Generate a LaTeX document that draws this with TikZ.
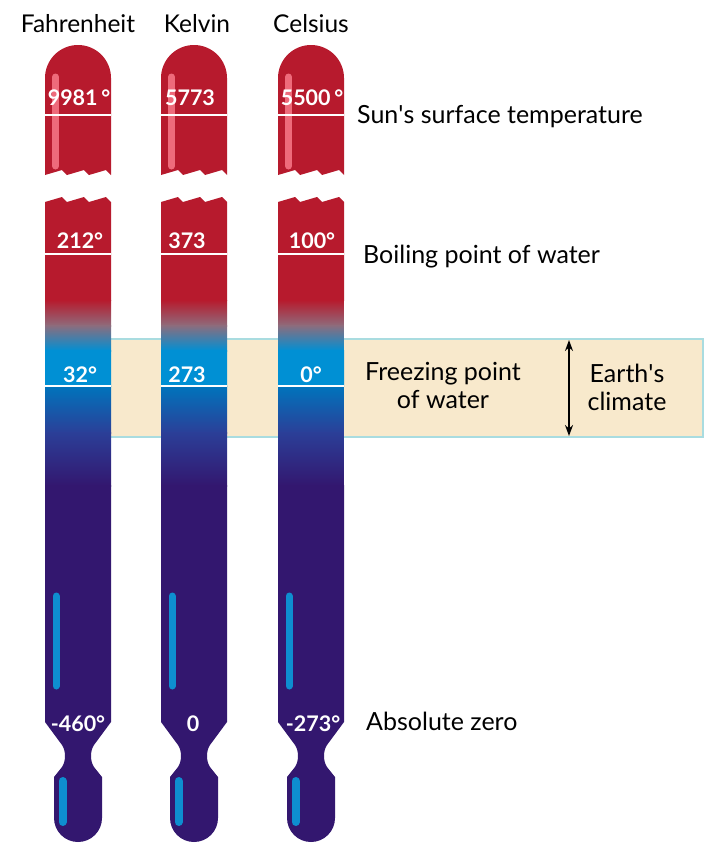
\documentclass[tikz,border=0pt]{standalone}
\usepackage{fontspec}
\setmainfont{Lato}
\usetikzlibrary{arrows.meta}
\usetikzlibrary{positioning}

\definecolor{sunred}{HTML}{B71A2D}
\definecolor{mauve}{HTML}{8E6C7C}
\definecolor{icecyan}{HTML}{0090D4}
\definecolor{deepblue}{HTML}{0074BC}
\definecolor{navy}{HTML}{2B3F98}
\definecolor{cold}{HTML}{33176F}
\definecolor{pinkline}{HTML}{EE6B7B}
\definecolor{blueline}{HTML}{0E8ED0}
\definecolor{bandfill}{HTML}{F8E9CC}
\definecolor{bandedge}{HTML}{A9DCE0}

\tikzset{
  scalename/.style={font=\fontsize{24.5}{28}\selectfont, anchor=base, inner sep=0pt},
  reading/.style={text=white, font=\bfseries\fontsize{21.5}{24}\selectfont, anchor=base, inner sep=0pt},
  note/.style={font=\fontsize{25}{27.5}\selectfont, inner sep=0pt},
  tickline/.style={white, line width=1.3pt},
  stripe/.style={line width=7pt, line cap=round},
}

\begin{document}
\begin{tikzpicture}[x=1pt,y=1pt]
\useasboundingbox (0,0) rectangle (720,-862);
% climate band
\draw[bandedge, fill=bandfill, line width=2pt] (109,-339) rectangle (703,-437);
% thermometers
\foreach \c in {78,194,311} {
  % upper piece
  \fill[sunred] ({\c-33},-78) -- ({\c-33},-175) -- ({\c-16},-170) -- ({\c-11},-175)
    -- ({\c+6},-170) -- ({\c+11},-175) -- ({\c+28},-170) -- ({\c+33},-175)
    -- ({\c+33},-78) arc (0:180:33pt) -- cycle;
  \draw[pinkline, stripe] ({\c-22.5},-77) -- ({\c-22.5},-166);
  % lower piece
  \begin{scope}
    \clip ({\c-33},-202) -- ({\c-16},-197) -- ({\c-11},-202) -- ({\c+6},-197)
      -- ({\c+11},-202) -- ({\c+28},-197) -- ({\c+33},-202)
      -- ({\c+33},-722) -- ({\c+16},-745)
      .. controls ({\c+12},-751) and ({\c+12},-761) .. ({\c+16},-767)
      -- ({\c+24},-777) -- ({\c+24},-818) arc (0:-180:24pt)
      -- ({\c-24},-777) -- ({\c-16},-767)
      .. controls ({\c-12},-761) and ({\c-12},-751) .. ({\c-16},-745)
      -- ({\c-33},-722) -- cycle;
    \fill[sunred] ({\c-40},-190) rectangle ({\c+40},-301);
    \shade[top color=sunred, bottom color=mauve] ({\c-40},-300) rectangle ({\c+40},-326);
    \shade[top color=mauve, bottom color=icecyan] ({\c-40},-325) rectangle ({\c+40},-351);
    \fill[icecyan] ({\c-40},-350) rectangle ({\c+40},-387);
    \shade[top color=deepblue, bottom color=navy] ({\c-40},-386) rectangle ({\c+40},-433);
    \shade[top color=navy, bottom color=cold] ({\c-40},-432) rectangle ({\c+40},-486);
    \fill[cold] ({\c-40},-485) rectangle ({\c+40},-850);
  \end{scope}
  \draw[blueline, stripe] ({\c-22},-596) -- ({\c-22},-686);
  \draw[blueline, stripe, line width=8pt] ({\c-15.5},-781) -- ({\c-15.5},-822);
  \foreach \y in {115,254,386}
    \draw[tickline] ({\c-33},-\y) -- ({\c+33},-\y);
}

% scale names
\node[scalename] (fahr) at (78,-32) {Fahrenheit};
\node[scalename] (kelv) at (197,-32) {Kelvin};
\node[scalename] (cels) at (311,-32) {Celsius};

% readings
\node[reading] (fsun) at (79,-105) {9981\,°};
\node[reading] (ksun) at (190,-105) {5773};
\node[reading] (csun) at (312,-105) {5500\,°};
\node[reading] (fboil) at (80,-248) {212°};
\node[reading] (kboil) at (187,-248) {373};
\node[reading] (cboil) at (312,-248) {100°};
\node[reading] (ffreeze) at (80,-382) {32°};
\node[reading] (kfreeze) at (187,-382) {273};
\node[reading] (cfreeze) at (311,-382) {0°};
\node[reading] (fzero) at (78,-731) {-460°};
\node[reading] (kzero) at (193,-731) {0};
\node[reading] (czero) at (313,-731) {-273°};

% notes
\node[note, anchor=base west] (sun) at (357,-123) {Sun\textquotesingle s surface temperature};
\node[note, anchor=base west] (boil) at (363,-263) {Boiling point of water};
\node[note, align=center, anchor=base] (freeze) at (443,-408) {Freezing point\\of water};
\node[note, align=center, anchor=base] (earth) at (627,-410) {Earth\textquotesingle s\\climate};
\node[note, anchor=base west] (zero) at (366,-730) {Absolute zero};

% earth's climate range
\coordinate (ctop) at (569,-340);
\coordinate (cbot) at (569,-436);
\draw[{Stealth[length=11pt,width=8pt]}-{Stealth[length=11pt,width=8pt]}, line width=1.8pt] (ctop) -- (cbot);
\end{tikzpicture}
\end{document}
